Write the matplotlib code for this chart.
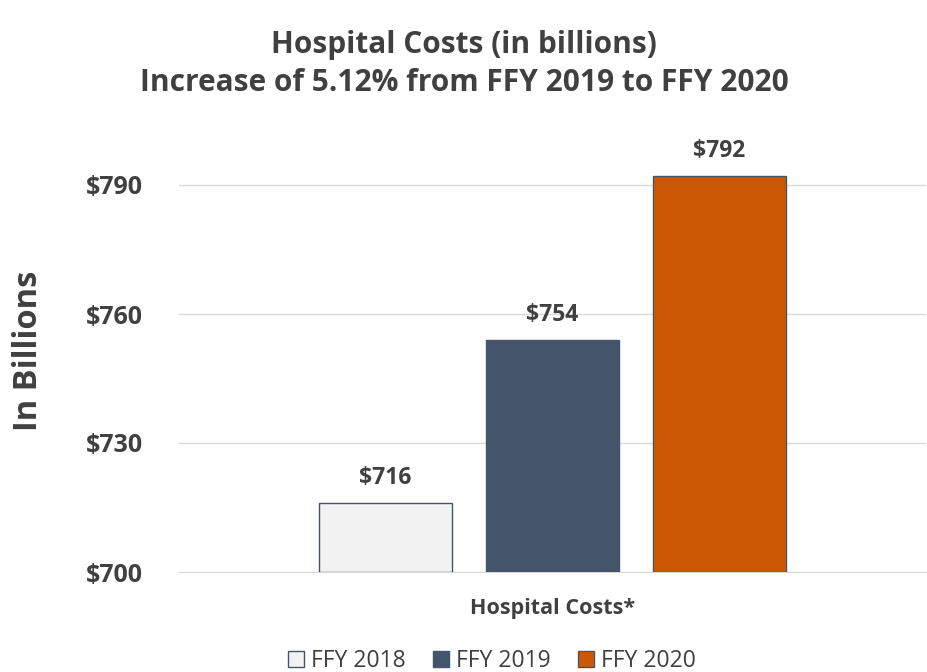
import matplotlib
matplotlib.use("Agg")
import matplotlib.pyplot as plt
from matplotlib.patches import Patch

plt.rcParams['font.family'] = ['Open Sans', 'DejaVu Sans']

categories = ["Hospital Costs*"]
series_names = ["FFY 2018", "FFY 2019", "FFY 2020"]
values = [716, 754, 792]
colors = ["#F2F2F2", "#44546A", "#CC5804"]
edgecolors = ["#44546A", "#44546A", "#44546A"]
yticks = [700, 730, 760, 790]
ytick_labels = ["$700", "$730", "$760", "$790"]

txt = "#404040"
fig = plt.figure(figsize=(9.28, 6.72), dpi=100)
ax = fig.add_axes([179/928, 1-572/672, (926-179)/928, (572-142)/672])

width = 0.177
offsets = [-0.2235, 0.0, 0.2235]
for i, (name, v) in enumerate(zip(series_names, values)):
    ax.bar(0 + offsets[i], v - 700, bottom=700, width=width, color=colors[i],
           edgecolor=edgecolors[i], linewidth=1.0, zorder=3, label=name)
    ax.text(0 + offsets[i], v + 3.0, f"${v}", ha='center', va='bottom',
            fontsize=16.5, fontweight='bold', color=txt)

ax.set_xlim(-0.5, 0.5)
ax.set_ylim(700, 800)
ax.set_yticks(yticks)
ax.set_yticklabels(ytick_labels, fontsize=18, fontweight='bold', color=txt)
ax.set_xticks([0])
ax.set_xticklabels(categories, fontsize=15.5, fontweight='bold', color=txt)
ax.tick_params(axis='both', length=0)
ax.tick_params(axis='y', pad=26)
ax.tick_params(axis='x', pad=19)
ax.grid(axis='y', color='#D9D9D9', linewidth=1.0, zorder=0)
for s in ['top', 'right', 'left']:
    ax.spines[s].set_visible(False)
ax.spines['bottom'].set_color('#D9D9D9')

ax.set_ylabel("In Billions", fontsize=23.5, fontweight='bold', color=txt)
ax.yaxis.set_label_coords(-0.18, 0.514)

fig.text(0.5, 1-45/672, "Hospital Costs (in billions)", ha='center', va='center',
         fontsize=21.5, fontweight='bold', color=txt)
fig.text(0.5, 1-83/672, "Increase of 5.12% from FFY 2019 to FFY 2020", ha='center', va='center',
         fontsize=21.5, fontweight='bold', color=txt)

handles = [Patch(facecolor=c, edgecolor=e, linewidth=1.0) for c, e in zip(colors, edgecolors)]
fig.legend(handles, series_names, loc='center', bbox_to_anchor=(492/928, 1-661/672), ncol=3,
           frameon=False, fontsize=16.5, labelcolor=txt, handlelength=0.7, handleheight=0.7,
           handletextpad=0.3, columnspacing=1.2)

fig.savefig("out.png", dpi=100)
